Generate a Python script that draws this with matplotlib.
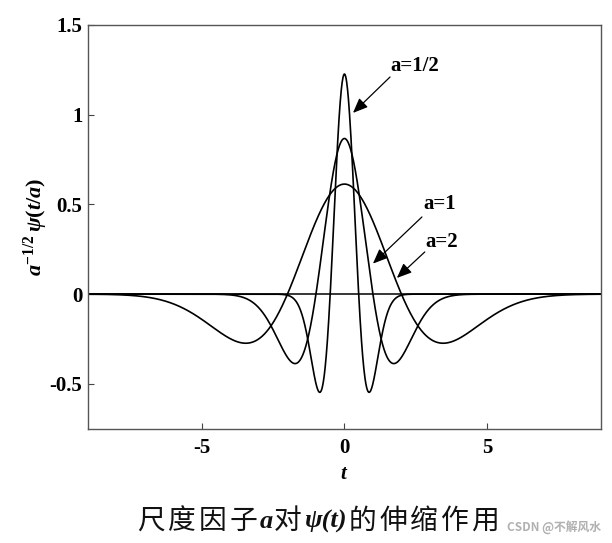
import matplotlib
matplotlib.use('Agg')
import matplotlib.pyplot as plt
import numpy as np

plt.rcParams['font.family'] = ['Liberation Serif', 'DejaVu Serif']
plt.rcParams['font.weight'] = 'bold'
plt.rcParams['axes.unicode_minus'] = False
plt.rcParams['mathtext.fontset'] = 'custom'
plt.rcParams['mathtext.rm'] = 'Liberation Serif:bold'
plt.rcParams['mathtext.it'] = 'Liberation Serif:bold:italic'
plt.rcParams['mathtext.bf'] = 'Liberation Serif:bold'

# scale factors and time axis
scales = [0.5, 1, 2]
t = np.linspace(-9, 9, 1801)
xticks = [-5, 0, 5]
xtick_labels = ['-5', '0', '5']
yticks = [-0.5, 0, 0.5, 1, 1.5]
ytick_labels = ['-0.5', '0', '0.5', '1', '1.5']

# annotations: label, label position, arrow tail, arrow head
note_labels = ['a=1/2', 'a=1', 'a=2']
note_text_xy = [(2.47, 1.27), (3.35, 0.50), (3.42, 0.29)]
note_tail_xy = [(1.60, 1.21), (2.72, 0.43), (2.82, 0.235)]
note_head_xy = [(0.30, 1.01), (1.00, 0.17), (1.84, 0.09)]


def mexican_hat(x):
    return 2 / (np.sqrt(3) * np.pi ** 0.25) * (1 - x ** 2) * np.exp(-x ** 2 / 2)


fig = plt.figure(figsize=(6.12, 5.43), dpi=100)
ax = fig.add_axes([0.1438, 0.2105, 0.838, 0.7435])

ax.axhline(0, color='k', lw=1.1)
for a in scales:
    ax.plot(t, a ** -0.5 * mexican_hat(t / a), color='k', lw=1.2)

for label, txy, tail, head in zip(note_labels, note_text_xy, note_tail_xy, note_head_xy):
    ax.text(txy[0], txy[1], label, fontsize=15, fontweight='bold',
            ha='center', va='center')
    ax.annotate('', xy=head, xytext=tail,
                arrowprops=dict(arrowstyle='-|>,head_length=0.6,head_width=0.25',
                                color='k', lw=0.9, mutation_scale=15,
                                shrinkA=0, shrinkB=0))

ax.set_xlim(-9, 9)
ax.set_ylim(-0.75, 1.5)
ax.set_xticks(xticks)
ax.set_xticklabels(xtick_labels)
ax.set_yticks(yticks)
ax.set_yticklabels(ytick_labels)
ax.tick_params(direction='in', length=4, labelsize=15, width=0.8, colors='#444444',
               labelcolor='k')
ax.tick_params(axis='x', pad=7)
ax.tick_params(axis='y', pad=4)
for s in ax.spines.values():
    s.set_color('#555555')
    s.set_linewidth(1.0)

ax.set_xlabel(r'$t$', fontsize=15, labelpad=5)
ax.set_ylabel(r'$a^{\mathrm{-1/2}}\,\psi(t/a)$', fontsize=16, labelpad=0)

# caption under the chart, built piece by piece
cjk = ['Noto Sans CJK SC', 'DejaVu Sans']
pieces = [(c, cjk, 'normal', 'normal') for c in '尺度因子']
pieces += [('a', ['Liberation Serif'], 'bold', 'italic')]
pieces += [('对', cjk, 'normal', 'normal')]
pieces += [('ψ(t)', ['Liberation Serif', 'DejaVu Serif'], 'bold', 'italic')]
pieces += [(c, cjk, 'normal', 'normal') for c in '的伸缩作用']

renderer = fig.canvas.get_renderer()
x_px = 137
y_px = 543 - 521
for txt, fam, wt, st in pieces:
    size = 20 if fam is cjk else 19
    tx = fig.text(x_px / 612, y_px / 543, txt, family=fam, fontweight=wt, fontstyle=st,
                  fontsize=size, va='center', ha='left', color='#111111')
    w = tx.get_window_extent(renderer).width
    x_px += w + (3 if fam is cjk else 1)

fig.text(601 / 612, (543 - 527) / 543, 'CSDN @不解风水', family=cjk, fontsize=8.5,
         color='#b0b0b0', va='center', ha='right')

fig.savefig('out.png', dpi=100)
